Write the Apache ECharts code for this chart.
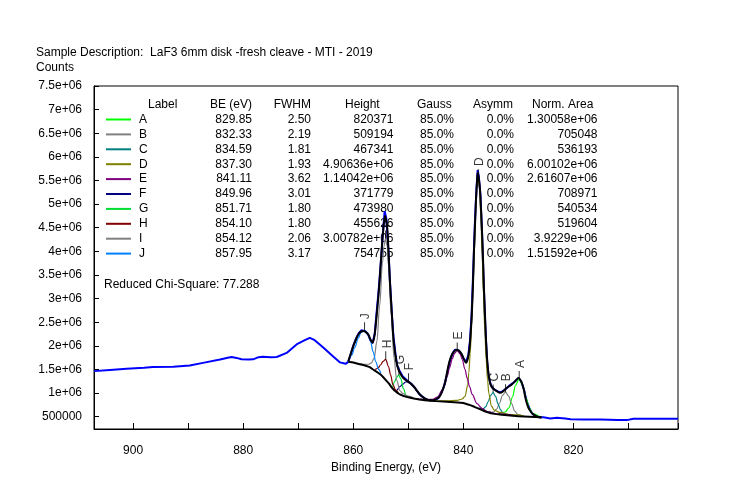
<!DOCTYPE html>
<html><head><meta charset="utf-8">
<script src="https://cdn.jsdelivr.net/npm/echarts@6/dist/echarts.min.js"></script>
<style>html,body{margin:0;padding:0;background:#fff}#c{width:734px;height:501px}</style>
</head><body><div id="c"></div>
<script>
const FONT = 'Arial, "Liberation Sans", sans-serif';

// ---- fit table (text) ----
const compNames  = ['A','B','C','D','E','F','G','H','I','J'];
const compColors = ['#00ff00','#808080','#008080','#808000','#800080','#000080','#00dd33','#800000','#808080','#0080ff'];
const compBE     = ['829.85','832.33','834.59','837.30','841.11','849.96','851.71','854.10','854.12','857.95'];
const compFWHM   = ['2.50','2.19','1.81','1.93','3.62','3.01','1.80','1.80','2.06','3.17'];
const compHeight = ['820371','509194','467341','4.90636e+06','1.14042e+06','371779','473980','455626','3.00782e+06','754755'];
const compGauss  = ['85.0%','85.0%','85.0%','85.0%','85.0%','85.0%','85.0%','85.0%','85.0%','85.0%'];
const compAsymm  = ['0.0%','0.0%','0.0%','0.0%','0.0%','0.0%','0.0%','0.0%','0.0%','0.0%'];
const compArea   = ['1.30058e+06','705048','536193','6.00102e+06','2.61607e+06','708971','540534','519604','3.9229e+06','1.51592e+06'];

// peak label anchors (energy, counts at top of component)
const peakLabelEV  = [829.85, 832.33, 834.59, 837.30, 841.11, 849.96, 851.71, 854.10, 854.12, 857.95];
const peakLabelTop = [1300000, 1020000, 1010000, 5575000, 1900000, 1250000, 1380000, 1715000, 4270000, 2330000];

// ---- measured spectrum [binding energy, counts] ----
const rawSpectrum = [
[907.1,1465000],[904.2,1490000],[901.2,1515000],[898.0,1535000],[896.4,1550000],[892.7,1560000],
[889.7,1585000],[887.3,1640000],[884.2,1710000],[882.6,1755000],[882.1,1765000],[881.2,1745000],
[880.3,1715000],[879.0,1710000],[878.2,1715000],[877.2,1760000],[876.4,1770000],[875.0,1760000],
[873.9,1765000],[872.1,1850000],[870.3,2030000],[868.8,2120000],[867.9,2170000],[867.0,2120000],
[865.4,1960000],[863.8,1790000],[862.4,1650000],[861.4,1620000],[860.9,1660000],[860.5,1800000],
[860.0,2000000],[859.5,2150000],[859.0,2270000],[858.5,2330000],[858.2,2340000],[857.8,2310000],
[857.3,2240000],[856.9,2120000],[856.5,2060000],[856.1,2250000],[855.8,2650000],[855.4,3150000],
[855.0,3750000],[854.6,4400000],[854.3,4850000],[854.0,4700000],[853.7,4200000],[853.3,3300000],
[853.0,2700000],[852.7,2200000],[852.3,1800000],[852.0,1580000],[851.5,1450000],[851.0,1350000],
[850.5,1300000],[850.0,1240000],[849.5,1200000],[849.0,1140000],[848.5,1060000],[848.0,980000],
[847.5,930000],[847.0,890000],[846.5,860000],[846.0,850000],[845.5,850000],[845.0,860000],
[844.5,900000],[844.0,1000000],[843.5,1150000],[843.0,1380000],[842.5,1650000],[842.0,1830000],
[841.5,1920000],[841.2,1950000],[840.8,1900000],[840.3,1820000],[839.9,1720000],[839.5,1660000],
[839.1,1800000],[838.8,2100000],[838.5,2650000],[838.2,3600000],[837.9,4600000],[837.6,5350000],
[837.4,5720000],[837.2,5600000],[836.9,5200000],[836.6,4400000],[836.3,3300000],[836.0,2400000],
[835.7,1700000],[835.4,1350000],[835.0,1170000],[834.5,1090000],[834.0,1050000],[833.5,1020000],
[833.0,1030000],[832.5,1070000],[832.0,1120000],[831.5,1170000],[831.0,1210000],[830.5,1260000],
[830.0,1320000],[829.5,1250000],[829.0,1080000],[828.5,830000],[828.0,680000],[827.5,570000],
[827.0,520000],[826.5,500000],[826.0,490000],[825.45,490000],[824.2,463000],[823.0,477000],
[821.5,460000],[820.5,445000],[818.2,442000],[815.0,440000],[812.0,430000],[810.3,428000],
[809.1,456000],[805.0,455000],[801.0,456000]];

// ---- Shirley background ----
const background = [
[860.9,1665000],[860.0,1645000],[859.0,1615000],[858.0,1590000],[857.0,1550000],[856.4,1500000],
[856.0,1470000],[855.5,1430000],[855.0,1390000],[854.5,1330000],[854.0,1265000],[853.5,1200000],
[853.0,1115000],[852.5,1055000],[852.0,1005000],[851.5,970000],[851.0,945000],[850.0,910000],
[849.0,885000],[848.0,865000],[847.0,850000],[846.0,840000],[845.0,830000],[843.0,815000],
[841.0,800000],[840.0,790000],[839.0,755000],[838.0,710000],[837.0,660000],[836.0,610000],
[835.0,575000],[834.0,555000],[833.0,540000],[832.0,530000],[831.0,520000],[830.0,510000],
[829.0,505000],[828.0,500000],[827.0,495000],[825.8,490000]];

// ---- fit envelope ----
const envelope = [
[860.9,1677000],[860.5,1820000],[860.0,1995000],[859.5,2140000],[859.09,2240000],[858.6,2300000],
[858.18,2315000],[857.7,2290000],[857.27,2240000],[856.9,2140000],[856.48,2065000],[856.1,2250000],
[855.76,2630000],[855.4,3100000],[855.15,3480000],[854.8,4100000],[854.54,4470000],[854.24,4750000],
[854.0,4650000],[853.82,4500000],[853.55,3900000],[853.33,3340000],[853.0,2700000],[852.73,2200000],
[852.4,1850000],[852.12,1640000],[851.8,1500000],[851.51,1430000],[851.0,1330000],[850.6,1290000],
[850.1,1240000],[849.7,1215000],[849.2,1160000],[848.79,1110000],[848.3,1030000],[847.88,970000],
[847.3,910000],[846.67,865000],[846.0,850000],[845.45,851000],[844.8,880000],[844.24,940000],
[843.8,1050000],[843.33,1220000],[842.73,1570000],[842.3,1750000],[841.82,1860000],[841.21,1920000],
[840.7,1885000],[840.3,1820000],[839.9,1720000],[839.52,1640000],[839.2,1720000],[838.91,1920000],
[838.7,2200000],[838.48,2630000],[838.25,3300000],[838.06,4040000],[837.85,4650000],[837.7,5100000],
[837.5,5500000],[837.39,5665000],[837.2,5550000],[836.97,5310000],[836.75,4800000],[836.48,4040000],
[836.25,3200000],[836.06,2630000],[835.85,2050000],[835.63,1640000],[835.4,1380000],[835.15,1220000],
[834.85,1130000],[834.54,1090000],[833.94,1040000],[833.33,1005000],[832.73,1040000],[832.12,1110000],
[831.6,1150000],[831.21,1180000],[830.6,1250000],[830.0,1320000],[829.39,1220000],[829.0,1070000],
[828.79,940000],[828.5,800000],[828.18,690000],[827.7,600000],[827.27,550000],[826.5,500000],[825.8,485000]];

// ---- components (drawn on the background) ----
const peakA = [[833.6,560000],[832.4,600000],[831.7,690000],[831.1,910000],[830.5,1170000],[829.85,1300000],
[829.2,1160000],[828.6,900000],[828.0,680000],[827.4,565000],[826.2,505000]];
const peakB = [[835.6,598000],[834.5,600000],[833.97,660000],[833.4,790000],[832.9,950000],[832.33,1020000],
[831.8,940000],[831.2,770000],[830.7,625000],[830.15,550000],[829.05,513000]];
const peakC = [[837.3,680000],[836.4,667000],[835.95,710000],[835.5,815000],[835.04,950000],[834.59,1010000],
[834.14,930000],[833.7,770000],[833.23,643000],[832.8,577000],[831.9,535000]];
const peakD = [[845.0,835000],[843.1,835000],[841.2,845000],[840.2,875000],[839.7,930000],[839.2,1170000],
[839.0,1430000],[838.75,1840000],[838.5,2430000],[838.27,3170000],[838.0,4000000],[837.78,4780000],
[837.54,5360000],[837.3,5575000],[837.06,5345000],[836.82,4740000],[836.58,3930000],[836.34,3080000],
[836.1,2310000],[835.85,1705000],[835.6,1275000],[835.37,995000],[834.9,725000],[834.4,640000],
[833.4,590000],[831.5,545000],[829.0,515000]];
const peakE = [[848.4,880000],[846.5,863000],[845.6,867000],[844.7,915000],[843.8,1070000],[843.4,1170000],
[842.9,1365000],[842.5,1540000],[842.0,1730000],[841.6,1840000],[841.11,1900000],[840.6,1830000],
[840.2,1710000],[839.7,1500000],[839.3,1315000],[838.85,1130000],[838.4,974000],[837.5,775000],
[836.6,675000],[835.7,608000],[833.9,560000],[831.0,530000]];
const peakF = [[852.0,1060000],[851.5,1140000],[851.0,1190000],[850.5,1235000],[849.96,1250000],[849.4,1200000],
[848.9,1125000],[848.4,1035000],[847.7,937000],[847.0,880000],[846.0,850000],[845.0,835000]];
const peakG = [[852.9,1090000],[852.45,1250000],[852.1,1340000],[851.75,1380000],[851.35,1300000],
[850.9,1100000],[850.4,950000],[849.9,915000]];
const peakH = [[856.0,1500000],[855.5,1530000],[855.0,1600000],[854.6,1670000],[854.1,1715000],[853.6,1560000],
[853.2,1380000],[852.8,1180000],[852.3,1070000],[851.8,1000000]];
const peakI = [[860.9,1670000],[860.0,1660000],[859.0,1625000],[858.2,1610000],[857.2,1610000],[856.7,1640000],
[856.2,1740000],[855.7,2100000],[855.2,2850000],[854.7,3750000],[854.4,4120000],[854.12,4270000],
[853.85,4120000],[853.6,3700000],[853.1,2650000],[852.6,1750000],[852.1,1270000],[851.5,1050000],
[851.0,990000],[850.0,935000],[849.0,895000]];
const peakJ = [[860.9,1690000],[860.3,1800000],[859.7,1970000],[859.1,2160000],[858.6,2280000],[857.95,2330000],
[857.4,2270000],[856.9,2120000],[856.4,1880000],[855.9,1660000],[855.4,1500000],[855.0,1420000]];
const components = [peakA, peakB, peakC, peakD, peakE, peakF, peakG, peakH, peakI, peakJ];

// ---- axis ranges ----
const xMin = 801.0, xMax = 907.1;
const yMin = 240000, yMax = 7500000;

// ---- build chart ----
const chart = echarts.init(document.getElementById('c'), null, {renderer: 'canvas'});

const series = [];
series.push({type:'line', name:'data', data: rawSpectrum, showSymbol:false, symbol:'none',
  lineStyle:{color:'#0000ff', width:2}, z:2, silent:true});
components.forEach((pts, i) => {
  series.push({type:'line', name: compNames[i], data: pts, showSymbol:false, symbol:'none',
    smooth:0.35, smoothMonotone:'x', lineStyle:{color: compColors[i], width:1.2}, z:3, silent:true});
});
series.push({type:'line', name:'background', data: background, showSymbol:false, symbol:'none',
  lineStyle:{color:'#000', width:2}, z:4, silent:true});
series.push({type:'line', name:'envelope', data: envelope, showSymbol:false, symbol:'none',
  smooth:0.25, lineStyle:{color:'#000', width:2}, z:5, silent:true});
series.push({type:'scatter', name:'labels', silent:true, z:6,
  data: peakLabelEV.map((e, i) => ({name: compNames[i], value:[e, peakLabelTop[i]]})),
  symbol:'rect', symbolSize:[1, 8], symbolOffset:[0, -4], itemStyle:{color:'#000'},
  label:{show:true, formatter:'{b}', position:[2, -3], rotate:90, align:'left', verticalAlign:'middle',
    color:'#000', fontFamily:FONT, fontSize:12}});

// table graphics
const g = [];
function txt(x, y, s, align) {
  g.push({type:'text', x:x, y:y, z:0, silent:true,
    style:{text:s, fill:'#000', font:'12px ' + FONT, align: align || 'left', verticalAlign:'middle'}});
}
txt(36, 53, 'Sample Description:  LaF3 6mm disk -fresh cleave - MTI - 2019');
txt(36, 68, 'Counts');
const headY = 104.5, rowY0 = 119.5, rowH = 14.9;
txt(148, headY, 'Label');
txt(252, headY, 'BE (eV)', 'right');
txt(311, headY, 'FWHM', 'right');
txt(345, headY, 'Height');
txt(417, headY, 'Gauss');
txt(473, headY, 'Asymm');
txt(532, headY, 'Norm. Area');
compNames.forEach((n, i) => {
  const y = rowY0 + i * rowH;
  g.push({type:'line', z:0, silent:true, shape:{x1:106, y1:y, x2:131, y2:y}, style:{stroke: compColors[i], lineWidth:2}});
  txt(139, y, n);
  txt(252, y, compBE[i], 'right');
  txt(311, y, compFWHM[i], 'right');
  txt(393.5, y, compHeight[i], 'right');
  txt(454, y, compGauss[i], 'right');
  txt(514, y, compAsymm[i], 'right');
  txt(597.5, y, compArea[i], 'right');
});
txt(104, 285, 'Reduced Chi-Square: 77.288');

chart.setOption({
  animation:false,
  backgroundColor:'#fff',
  grid:{left:94, right:56, top:86, bottom:72, show:true, borderColor:'#000', borderWidth:1, backgroundColor:'transparent'},
  xAxis:{type:'value', min:xMin, max:xMax, inverse:true, splitNumber:10,
    axisLine:{show:true, onZero:false, lineStyle:{color:'#000', width:1}},
    axisTick:{show:true, inside:true, length:6, lineStyle:{color:'#000', width:1}},
    axisLabel:{color:'#000', fontFamily:FONT, fontSize:12, margin:16,
      formatter: v => (Math.abs(v - Math.round(v)) < 1e-6 && Math.round(v) % 20 === 0) ? String(Math.round(v)) : ''},
    splitLine:{show:false},
    name:'Binding Energy, (eV)', nameLocation:'middle', nameGap:30,
    nameTextStyle:{color:'#000', fontFamily:FONT, fontSize:12}},
  yAxis:{type:'value', min:yMin, max:yMax, splitNumber:15,
    axisLine:{show:true, onZero:false, lineStyle:{color:'#000', width:1}},
    axisTick:{show:true, inside:true, length:5, lineStyle:{color:'#000', width:1}},
    axisLabel:{color:'#000', fontFamily:FONT, fontSize:12, margin:12, showMinLabel:false, showMaxLabel:true,
      formatter: v => {
        if (Math.round(v) % 500000 !== 0) return '';
        return v >= 1000000 ? (v / 1000000) + 'e+06' : String(v);
      }},
    splitLine:{show:false}},
  graphic: g,
  series: series
});
</script>
</body></html>
